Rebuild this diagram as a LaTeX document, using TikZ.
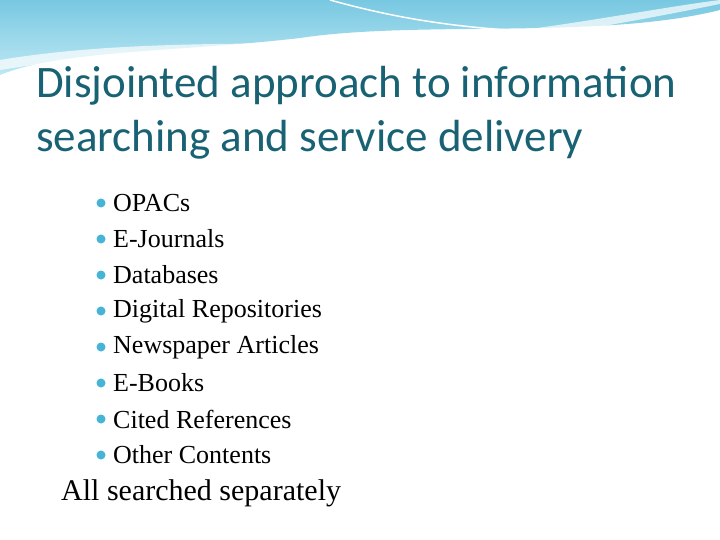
\documentclass[tikz,border=0pt]{standalone}
\usepackage{fontspec}
\setmainfont{Liberation Serif}
\newfontfamily\titlefont{Carlito}
\definecolor{ttl}{RGB}{24,98,116}
\definecolor{wave1}{RGB}{120,200,225}
\definecolor{wave2}{RGB}{190,232,244}
\definecolor{bul}{RGB}{70,180,215}
\begin{document}
\begin{tikzpicture}[x=1pt,y=-1pt,
  item/.style={anchor=west,font=\fontsize{26}{30}\selectfont,inner sep=0pt},
  dot/.style={circle,fill=bul,inner sep=0pt,minimum size=9pt}]
\useasboundingbox (0,0) rectangle (720,540);
\fill[white] (0,0) rectangle (720,540);
% top banner waves
\shade[top color=wave1,bottom color=wave2] (0,0) -- (720,0) -- (720,10) .. controls (600,40) and (420,20) .. (300,38) .. controls (180,52) and (60,50) .. (0,75) -- cycle;
\fill[white,opacity=0.7] (0,60) .. controls (120,40) and (250,45) .. (380,42) .. controls (500,40) and (640,10) .. (720,0) -- (720,4) .. controls (640,20) and (500,48) .. (380,50) .. controls (250,52) and (120,50) .. (0,70) -- cycle;
\draw[white,line width=1.5pt] (330,0) .. controls (420,25) and (520,40) .. (720,30);
\draw[white,line width=1pt] (0,78) .. controls (150,52) and (330,55) .. (470,52);
% title
\node[anchor=west,inner sep=0pt,text=ttl,font=\titlefont\fontsize{45}{54}\selectfont,align=left] (title) at (36,113)
  {Disjointed approach to information\\searching and service delivery};
% bullets
\foreach \t [count=\i] in {OPACs,E-Journals,Databases,Digital Repositories,Newspaper Articles,E-Books,Cited References,Other Contents}{
  \node[dot] (d\i) at (101,167+36*\i) {};
  \node[item] (t\i) at (113,167+36*\i) {\t};
}
\node[anchor=west,inner sep=0pt,font=\fontsize{30}{34}\selectfont] (all) at (61,493) {All searched separately};
\end{tikzpicture}
\end{document}
